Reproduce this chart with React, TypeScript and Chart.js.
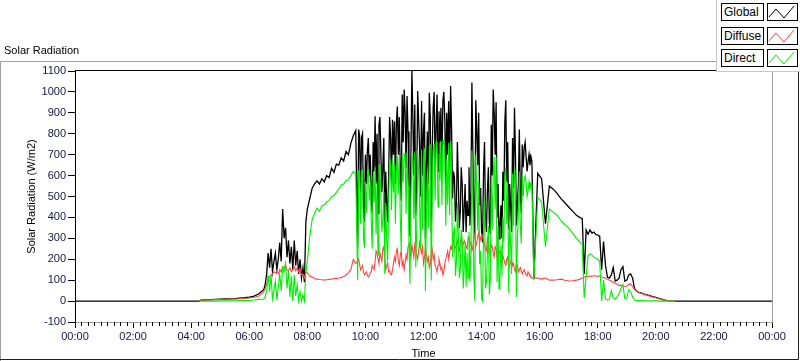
import React, { useEffect, useRef } from "react";
import { Chart, registerables } from "chart.js";

Chart.register(...registerables);

const FONT = '"Liberation Sans", Arial, sans-serif';

// Legend / series
const seriesNames = ["Global", "Diffuse", "Direct"];
const seriesColors = ["#000000", "#ff4545", "#00ee00"];
const seriesLineWidths = [1.3, 1.1, 1.1];

// Sampling segments (start time, step in minutes)
const segmentStarts = ["04:20", "06:30", "08:00", "09:44", "15:48", "17:28", "19:36"];
const segmentStepMinutes = [10, 3, 5, 2, 8, 4, 8];

// Global radiation (W/m2) per segment
const globalValues: number[][] = [
  [4, 6, 7, 8, 9, 10, 11, 12, 14, 16, 19, 24, 35],
  [55, 80, 130, 230, 160, 250, 140, 190, 230, 150, 200, 280, 190, 440, 300, 350, 210, 290, 180, 260,
    150, 290, 170, 240, 130, 200, 110, 160, 90, 380],
  [440, 490, 540, 560, 575, 560, 585, 570, 600, 590, 635, 615, 655, 650, 685, 670, 715, 700, 755, 790, 815],
  [260, 820, 790, 520, 780, 800, 443, 380, 700, 560,
    715, 780, 600, 700, 522, 420, 760, 620, 884, 560,
    800, 420, 843, 880, 700, 520, 640, 780, 329, 620,
    458, 380, 600, 880, 780, 560, 867, 700, 860, 560,
    850, 930, 700, 880, 618, 480, 988, 760, 1012, 900,
    636, 980, 811, 560, 313, 700, 1100, 880, 602, 940,
    410, 560, 1004, 860, 732, 500, 956, 600, 811, 900,
    298, 640, 811, 560, 996, 880, 329, 720, 924, 1000,
    650, 820, 988, 620, 907, 760, 924, 620, 956, 1000,
    868, 560, 900, 700, 956, 640, 1028, 820, 490, 620,
    587, 380, 458, 760, 570, 350, 426, 640, 555, 330,
    443, 560, 329, 480, 410, 640, 362, 520, 1045, 700,
    420, 300, 960, 820, 650, 900, 458, 540, 329, 280,
    618, 760, 410, 330, 522, 640, 378, 320, 843, 600,
    1012, 900, 700, 950, 400, 560, 298, 350, 458, 300,
    618, 480, 852, 960, 570, 760, 345, 560, 458, 330,
    780, 540, 924, 700, 362, 470, 555, 820, 522, 420,
    748, 640, 732, 760, 690, 620, 667, 700, 650, 690,
    667],
  [110, 610, 585, 370, 550, 535, 515, 490, 470, 450, 430, 410, 398],
  [395, 130, 340, 320, 340, 325, 330, 318, 315, 310, 150, 285, 170, 115, 110, 125, 160, 96, 100, 110,
    150, 165, 95, 100, 125, 130, 110, 60, 48, 42, 40],
  [33, 28, 22, 18, 12, 6, 2, 0, 0],
];

// Diffuse radiation (W/m2) per segment
const diffuseValues: number[][] = [
  [3, 5, 6, 7, 8, 9, 10, 10, 11, 13, 15, 18, 24],
  [45, 60, 80, 105, 115, 125, 130, 140, 135, 145, 130, 150, 140, 165, 160, 170, 150, 145, 160, 140,
    150, 165, 145, 160, 140, 155, 125, 130, 110, 140],
  [135, 120, 115, 108, 105, 103, 102, 100, 102, 104, 105, 108, 108, 110, 112, 118, 125, 135, 150, 200, 180],
  [190, 200, 175, 150, 160, 170, 140, 125, 130, 140,
    125, 115, 120, 135, 140, 170, 160, 150, 190, 240,
    230, 200, 180, 230, 210, 190, 250, 260, 200, 150,
    170, 185, 140, 145, 130, 125, 150, 180, 210, 190,
    240, 250, 190, 170, 220, 240, 170, 190, 150, 180,
    220, 200, 260, 280, 230, 210, 270, 240, 210, 270,
    250, 220, 200, 240, 280, 250, 230, 260, 180, 210,
    250, 230, 190, 210, 160, 180, 230, 250, 200, 220,
    170, 160, 140, 170, 200, 180, 150, 160, 125, 140,
    180, 200, 220, 240, 200, 230, 260, 250, 280, 290,
    240, 260, 270, 290, 250, 240, 280, 300, 260, 270,
    290, 280, 260, 250, 300, 310, 270, 280, 240, 260,
    300, 320, 260, 280, 310, 330, 280, 300, 320, 310,
    290, 270, 250, 240, 300, 280, 240, 220, 270, 260,
    230, 210, 260, 250, 210, 200, 240, 230, 190, 180,
    220, 200, 180, 170, 200, 210, 160, 170, 190, 200,
    170, 180, 150, 140, 180, 170, 140, 150, 160, 145,
    130, 140, 150, 135, 125, 120, 140, 130, 120, 115,
    110],
  [110, 110, 105, 110, 100, 100, 102, 105, 100, 96, 97, 100, 105],
  [110, 115, 118, 115, 120, 118, 122, 120, 118, 120, 115, 112, 110, 105, 100, 95, 90, 85, 80, 75,
    75, 72, 70, 72, 80, 82, 70, 55, 48, 42, 38],
  [32, 27, 20, 16, 11, 5, 2, 0, 0],
];

// Direct radiation (W/m2) per segment
const directValues: number[][] = [
  [0, 0, 0, 0, 1, 1, 1, 1, 2, 2, 3, 5, 8],
  [10, 20, 50, 125, 45, 125, 10, 50, 95, 5, 70, 130, 50, 160, 140, 180, 60, 145, 20, 120,
    0, 125, 25, 80, 0, 45, 0, 30, 0, 140],
  [190, 310, 390, 420, 445, 430, 455, 460, 475, 480, 500, 505, 520, 535, 555, 560, 575, 580, 600, 620, 610],
  [100, 620, 615, 370, 620, 625, 300, 255, 570, 420,
    590, 630, 480, 565, 382, 250, 600, 470, 640, 320,
    570, 220, 650, 650, 490, 330, 390, 520, 129, 470,
    288, 195, 460, 680, 650, 435, 685, 520, 650, 370,
    610, 695, 510, 700, 398, 240, 700, 570, 705, 705,
    416, 710, 551, 280, 83, 490, 710, 640, 392, 715,
    160, 340, 720, 620, 452, 250, 725, 340, 631, 730,
    48, 410, 621, 350, 740, 745, 99, 470, 724, 750,
    480, 760, 760, 450, 707, 580, 765, 460, 770, 770,
    688, 360, 680, 460, 756, 410, 765, 570, 210, 330,
    347, 120, 188, 470, 320, 110, 146, 340, 295, 60,
    153, 280, 69, 230, 110, 330, 92, 240, 720, 440,
    120, 0, 700, 540, 340, 570, 178, 240, 10, 0,
    328, 490, 60, 90, 222, 360, 30, 100, 573, 340,
    600, 690, 440, 690, 90, 360, 58, 120, 268, 120,
    398, 280, 600, 640, 370, 550, 40, 390, 268, 130,
    610, 360, 640, 560, 20, 300, 415, 620, 362, 275,
    600, 500, 580, 600, 565, 500, 527, 570, 530, 560,
    555],
  [100, 495, 475, 260, 440, 425, 410, 385, 365, 350, 325, 300, 278],
  [270, 15, 120, 215, 225, 220, 210, 205, 200, 190, 0, 100, 10, 5, 8, 50, 15, 10, 20, 35,
    60, 80, 10, 15, 55, 45, 20, 5, 3, 2, 2],
  [1, 1, 1, 1, 0, 0, 0, 0, 0],
];

// Leading / trailing zero points
const globalLead = [["00:00", 0], ["04:16", 0]] as [string, number][];
const globalTail = [["24:00", 0]] as [string, number][];
const otherLead = [["04:16", 0]] as [string, number][];

const xTickLabels = ["00:00", "02:00", "04:00", "06:00", "08:00", "10:00", "12:00",
  "14:00", "16:00", "18:00", "20:00", "22:00", "00:00"];
const X_MINOR_PER_MAJOR = 9;
const Y_MIN = -100;
const Y_MAX = 1100;
const Y_STEP = 100;

function toHours(s: string) {
  const [h, m] = s.split(":").map(Number);
  return h + m / 60;
}

function buildSeries(segs: number[][], lead: [string, number][], tail: [string, number][]) {
  const pts: { x: number; y: number }[] = [];
  lead.forEach(([t, v]) => pts.push({ x: toHours(t), y: v }));
  segs.forEach((vals, si) => {
    const t0 = toHours(segmentStarts[si]);
    vals.forEach((v, i) => pts.push({ x: t0 + (i * segmentStepMinutes[si]) / 60, y: v }));
  });
  tail.forEach(([t, v]) => pts.push({ x: toHours(t), y: v }));
  return pts;
}

const framePlugin = {
  id: "labviewFrame",
  beforeDraw(chart: any) {
    const { ctx, width, height } = chart;
    ctx.save();
    ctx.fillStyle = "#ffffff";
    ctx.fillRect(0, 0, width, height);
    ctx.restore();
  },
  afterDraw(chart: any) {
    const { ctx, chartArea: a, scales } = chart;
    const xs = scales.x;
    ctx.save();
    ctx.lineWidth = 1;
    // minor x ticks
    ctx.strokeStyle = "#000";
    ctx.beginPath();
    const step = 24 / (xTickLabels.length - 1);
    for (let i = 0; i < xTickLabels.length - 1; i++) {
      for (let k = 1; k < X_MINOR_PER_MAJOR; k++) {
        const v = i * step + (k * step) / X_MINOR_PER_MAJOR;
        const px = Math.round(xs.getPixelForValue(v)) + 0.5;
        ctx.moveTo(px, a.bottom);
        ctx.lineTo(px, a.bottom + 4);
      }
    }
    ctx.stroke();
    // plot top border (black)
    ctx.beginPath();
    ctx.strokeStyle = "#000";
    ctx.moveTo(a.left, Math.round(a.top) - 0.5);
    ctx.lineTo(a.right + 1, Math.round(a.top) - 0.5);
    ctx.stroke();
    // plot right border (gray)
    ctx.beginPath();
    ctx.strokeStyle = "#a0a0a0";
    ctx.moveTo(Math.round(a.right) + 0.5, a.top - 1);
    ctx.lineTo(Math.round(a.right) + 0.5, a.bottom + 1);
    ctx.stroke();
    // outer frame
    ctx.beginPath();
    ctx.strokeStyle = "#a0a0a0";
    ctx.moveTo(0.5, 361);
    ctx.lineTo(0.5, 61.5);
    ctx.lineTo(717, 61.5);
    ctx.stroke();
    ctx.beginPath();
    ctx.strokeStyle = "#202020";
    ctx.moveTo(0, 359.5);
    ctx.lineTo(798.5, 359.5);
    ctx.lineTo(798.5, 72);
    ctx.stroke();
    ctx.restore();
  },
};

export default function App() {
  const ref = useRef<HTMLCanvasElement | null>(null);

  useEffect(() => {
    if (!ref.current) return;
    const datasets = [
      { label: seriesNames[0], data: buildSeries(globalValues, globalLead, globalTail), order: 3 },
      { label: seriesNames[1], data: buildSeries(diffuseValues, otherLead, []), order: 2 },
      { label: seriesNames[2], data: buildSeries(directValues, otherLead, []), order: 1 },
    ].map((d, i) => ({
      ...d,
      borderColor: seriesColors[i],
      backgroundColor: seriesColors[i],
      borderWidth: seriesLineWidths[i],
      pointRadius: 0,
      fill: false,
      tension: 0,
    }));

    const chart = new Chart(ref.current, {
      type: "line",
      data: { datasets },
      plugins: [framePlugin],
      options: {
        animation: false,
        responsive: false,
        maintainAspectRatio: false,
        devicePixelRatio: 1,
        layout: { padding: { top: 71, right: 28, left: 0, bottom: 0 } },
        plugins: { legend: { display: false }, tooltip: { enabled: false }, title: { display: false } },
        scales: {
          x: {
            type: "linear",
            min: 0,
            max: 24,
            afterFit: (s: any) => {
              s.height = 39;
            },
            afterBuildTicks: (s: any) => {
              s.ticks = xTickLabels.map((_, i) => ({ value: i * 2 }));
            },
            ticks: {
              autoSkip: false,
              maxRotation: 0,
              minRotation: 0,
              padding: 2,
              color: "#15154a",
              font: { family: FONT, size: 11 },
              callback: (_v: any, i: number) => xTickLabels[i],
            },
            grid: { display: true, drawOnChartArea: false, drawTicks: true, tickLength: 6, color: "#000", tickColor: "#000" },
            border: { display: true, color: "#a0a0a0" },
            title: {
              display: true,
              text: "Time",
              color: "#000",
              font: { family: FONT, size: 11 },
              padding: { top: 0, bottom: 0 },
            },
          },
          y: {
            type: "linear",
            min: Y_MIN,
            max: Y_MAX,
            afterFit: (s: any) => {
              s.width = 75;
            },
            ticks: {
              stepSize: Y_STEP,
              padding: 2,
              color: "#15154a",
              font: { family: FONT, size: 11 },
              callback: (v: any) => String(v),
            },
            grid: { display: true, drawOnChartArea: false, drawTicks: true, tickLength: 7, color: "#000", tickColor: "#000" },
            border: { display: true, color: "#000" },
            title: {
              display: true,
              text: "Solar Radiation (W/m2)",
              color: "#000",
              font: { family: FONT, size: 11 },
              padding: { top: 25, bottom: 0 },
            },
          },
        },
      } as any,
    });
    return () => chart.destroy();
  }, []);

  const rowTops = [3, 27, 49];
  const zig = "1,13 8,5 16,14 26,2";

  return (
    <div style={{ position: "fixed", left: 0, top: 0, width: 800, height: 361, background: "#fff", fontFamily: FONT, overflow: "hidden" }}>
      <canvas ref={ref} width={800} height={361} style={{ position: "absolute", left: 0, top: 0, width: 800, height: 361 }} />
      <div style={{ position: "absolute", left: 4, top: 44, fontSize: 11, lineHeight: "13px", color: "#000", whiteSpace: "nowrap" }}>
        Solar Radiation
      </div>
      <div style={{ position: "absolute", left: 716, top: 0, width: 84, height: 72, boxSizing: "border-box", borderLeft: "1px solid #c8c8c8", borderBottom: "1px solid #c8c8c8", background: "#fff" }}>
        {seriesNames.map((name, i) => (
          <React.Fragment key={name}>
            <div style={{ position: "absolute", left: 4, top: rowTops[i], width: 43, height: 18, boxSizing: "border-box", border: "1px solid #000", background: "#fff", fontSize: 12, lineHeight: "16px", paddingLeft: 2, color: "#000", whiteSpace: "nowrap" }}>
              {name}
            </div>
            <div style={{ position: "absolute", left: 50, top: rowTops[i], width: 31, height: 18, boxSizing: "border-box", border: "1px solid #000", background: "#fff" }}>
              <svg width={29} height={16} style={{ display: "block" }}>
                <polyline points={zig} fill="none" stroke={seriesColors[i]} strokeWidth={1} />
              </svg>
            </div>
          </React.Fragment>
        ))}
      </div>
    </div>
  );
}
